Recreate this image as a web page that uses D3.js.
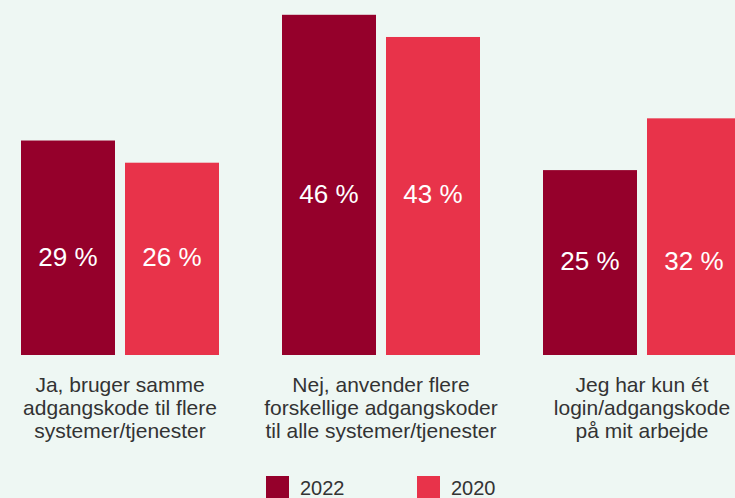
<!DOCTYPE html>
<html>
<head>
<meta charset="utf-8">
<script src="https://cdn.jsdelivr.net/npm/d3@7"></script>
<style>
  html, body { margin: 0; padding: 0; background: #eef7f3; overflow: hidden; }
  svg { display: block; font-family: "Liberation Sans", Arial, sans-serif; }
</style>
</head>
<body>
<div id="container"></div>
<script>
/*** DATA ***/
const categories = ["ja", "nej", "kun"];
const categoryLines = [
  ["Ja, bruger samme", "adgangskode til flere", "systemer/tjenester"],
  ["Nej, anvender flere", "forskellige adgangskoder", "til alle systemer/tjenester"],
  ["Jeg har kun ét", "login/adgangskode", "på mit arbejde"]
];
const series = ["2022", "2020"];
const values2022 = [29, 46, 25];
const values2020 = [26, 43, 32];
const seriesColors = ["#95002b", "#e8334a"];

/*** LAYOUT ***/
const width = 735,
  height = 498,
  baseline = 355;

const svg = d3.select("#container")
  .append("svg")
  .attr("width", width)
  .attr("height", height);

svg.append("rect")
  .attr("width", width)
  .attr("height", height)
  .attr("fill", "#eef7f3");

const x0 = d3.scaleBand()
  .domain(categories)
  .range([21, 741])
  .paddingInner(63 / 261)
  .paddingOuter(0);

const x1 = d3.scaleBand()
  .domain(series)
  .range([0, x0.bandwidth()])
  .paddingInner(10 / 104)
  .paddingOuter(0);

const y = d3.scaleLinear()
  .domain([0, 48])
  .range([baseline, 0]);

const color = d3.scaleOrdinal().domain(series).range(seriesColors);

const rows = categories.map((c, i) => ({
  cat: c,
  vals: [
    { key: "2022", v: values2022[i] },
    { key: "2020", v: values2020[i] }
  ]
}));

const groups = svg.selectAll("g.group")
  .data(rows)
  .join("g")
  .attr("class", "group")
  .attr("transform", d => `translate(${x0(d.cat)},0)`);

groups.selectAll("rect")
  .data(d => d.vals)
  .join("rect")
  .attr("x", d => x1(d.key))
  .attr("y", d => y(d.v))
  .attr("width", x1.bandwidth())
  .attr("height", d => baseline - y(d.v))
  .attr("fill", d => color(d.key));

// value labels, placed near the middle of the shorter bar of the group
groups.each(function (row) {
  const minV = d3.min(row.vals, d => d.v);
  const labelY = (y(minV) + baseline) / 2 - 2;
  d3.select(this).selectAll("text.value")
    .data(row.vals)
    .join("text")
    .attr("class", "value")
    .attr("x", d => x1(d.key) + x1.bandwidth() / 2)
    .attr("y", labelY)
    .attr("dy", "0.35em")
    .attr("text-anchor", "middle")
    .attr("fill", "#ffffff")
    .style("font-size", "26px")
    .text(d => d.v + " %");
});

// category labels
groups.append("text")
  .attr("class", "cat")
  .attr("text-anchor", "middle")
  .attr("fill", "#333333")
  .style("font-size", "21px")
  .selectAll("tspan")
  .data((d, i) => categoryLines[i])
  .join("tspan")
  .attr("x", x0.bandwidth() / 2)
  .attr("y", (d, i) => 392 + i * 23)
  .text(d => d);

// legend
const legendX = d3.scaleOrdinal().domain(series).range([266, 417]);

svg.selectAll(".legendBox")
  .data(series)
  .join("rect")
  .attr("class", "legendBox")
  .attr("x", d => legendX(d))
  .attr("y", 476)
  .attr("width", 23)
  .attr("height", 23)
  .attr("fill", d => color(d));

svg.selectAll(".legendText")
  .data(series)
  .join("text")
  .attr("class", "legendText")
  .attr("x", d => legendX(d) + 34)
  .attr("y", 495)
  .attr("fill", "#333333")
  .style("font-size", "20px")
  .text(d => d);
</script>
</body>
</html>
